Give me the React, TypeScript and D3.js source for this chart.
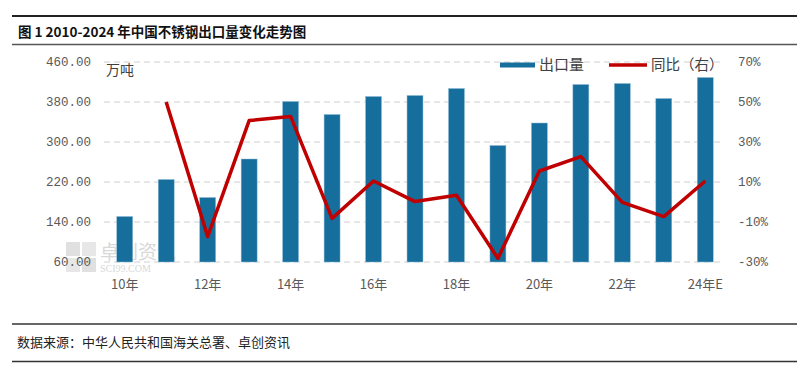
import React from "react";
import * as d3 from "d3";

const categories = ["2010","2011","2012","2013","2014","2015","2016","2017","2018","2019","2020","2021","2022","2023","2024E"];
const xTickLabels = ["10年","","12年","","14年","","16年","","18年","","20年","","22年","","24年E"];
const exportVolume = [151, 225, 189, 266, 381, 355, 391, 393, 407, 293, 338, 415, 417, 387, 429];
const yoyChange: (number | null)[] = [null, 50, -17.3, 40.7, 42.8, -8.2, 10.5, 0.2, 3.4, -28.2, 15.5, 22.7, -0.2, -7.3, 10.5];
const leftTicks = [60, 140, 220, 300, 380, 460];
const rightTicks = [-30, -10, 10, 30, 50, 70];

const W = 811, H = 366;
const plot = { left: 104, right: 726, top: 62, bottom: 262 };
const numFont = "'Liberation Mono', 'DejaVu Sans Mono', monospace";
const cjk = "'Noto Sans CJK SC', sans-serif";

export default function App() {
  const x = d3.scaleBand<string>().domain(categories).range([plot.left, plot.right]).paddingInner(0.615).paddingOuter(0.3075);
  const yL = d3.scaleLinear().domain([60, 460]).range([plot.bottom, plot.top]);
  const yR = d3.scaleLinear().domain([-30, 70]).range([plot.bottom, plot.top]);
  const cx = (c: string) => (x(c) as number) + x.bandwidth() / 2;
  const lineData = categories.map((c, i) => ({ c, v: yoyChange[i] })).filter(d => d.v !== null) as { c: string; v: number }[];
  const line = d3.line<{ c: string; v: number }>().x(d => cx(d.c)).y(d => yR(d.v));

  return (
    <svg width={W} height={H} style={{ position: "absolute", left: 0, top: 0, background: "#fff" }}>
      <rect x={0} y={0} width={W} height={H} fill="#fff" />
      {/* header */}
      <line x1={12} x2={797} y1={16} y2={16} stroke="#222" strokeWidth={2} />
      <text x={18} y={37} fontFamily={cjk} fontWeight={700} fontSize={13.5} fill="#111">图 1 2010-2024 年中国不锈钢出口量变化走势图</text>
      <line x1={12} x2={797} y1={44.5} y2={44.5} stroke="#555" strokeWidth={1.5} />

      {/* watermark */}
      <g opacity={0.45}>
        <rect x={66} y={242} width={14} height={14} fill="#bbb" />
        <rect x={82} y={242} width={14} height={14} fill="#ccc" />
        <rect x={66} y={258} width={14} height={14} fill="#ccc" />
        <rect x={82} y={258} width={14} height={14} fill="#bbb" />
        <text x={100} y={259} fontFamily={cjk} fontSize={19} fill="#aaa">卓创资讯</text>
        <text x={100} y={272} fontFamily="'Liberation Serif', serif" fontSize={10} fill="#aaa">SCI99.COM</text>
      </g>

      {/* gridlines */}
      {leftTicks.map(t => (
        <line key={t} x1={plot.left} x2={plot.right - 2} y1={yL(t)} y2={yL(t)} stroke="#d0d0d0" strokeWidth={1} strokeDasharray="6,4" />
      ))}

      {/* bars */}
      {categories.map((c, i) => (
        <rect key={c} x={x(c)} y={yL(exportVolume[i])} width={x.bandwidth()} height={yL(60) - yL(exportVolume[i])} fill="#156E9C" stroke="#8fbcd6" strokeWidth={0.5} />
      ))}

      {/* line */}
      <path d={line(lineData) || ""} fill="none" stroke="#C00000" strokeWidth={3.5} strokeLinejoin="round" />

      {/* left axis */}
      {leftTicks.map(t => (
        <text key={t} x={91} y={yL(t)} dy="0.35em" textAnchor="end" fontFamily={numFont} fontSize={12.5} fill="#595959">{t.toFixed(2)}</text>
      ))}
      <text x={106} y={75} fontFamily={cjk} fontSize={14} fill="#404040">万吨</text>

      {/* right axis */}
      {rightTicks.map(t => (
        <text key={t} x={738} y={yR(t)} dy="0.35em" textAnchor="start" fontFamily={numFont} fontSize={12.5} fill="#595959">{`${t}%`}</text>
      ))}

      {/* x labels */}
      {categories.map((c, i) => xTickLabels[i] ? (
        <text key={c} x={cx(c)} y={289} textAnchor="middle" fontFamily={cjk} fontSize={13} fill="#595959">{xTickLabels[i]}</text>
      ) : null)}

      {/* legend */}
      <line x1={500} x2={535} y1={65} y2={65} stroke="#156E9C" strokeWidth={5} />
      <text x={539} y={65} dy="0.35em" fontFamily={cjk} fontSize={15} fill="#404040">出口量</text>
      <line x1={609} x2={647} y1={65} y2={65} stroke="#C00000" strokeWidth={3.5} />
      <text x={651} y={65} dy="0.35em" fontFamily={cjk} fontSize={14.5} fill="#404040">同比（右）</text>

      {/* footer */}
      <line x1={12} x2={797} y1={324} y2={324} stroke="#333" strokeWidth={1.5} />
      <text x={17} y={347} fontFamily={cjk} fontSize={13} fill="#222">数据来源：中华人民共和国海关总署、卓创资讯</text>
      <line x1={12} x2={797} y1={361.5} y2={361.5} stroke="#333" strokeWidth={1.5} />
    </svg>
  );
}
